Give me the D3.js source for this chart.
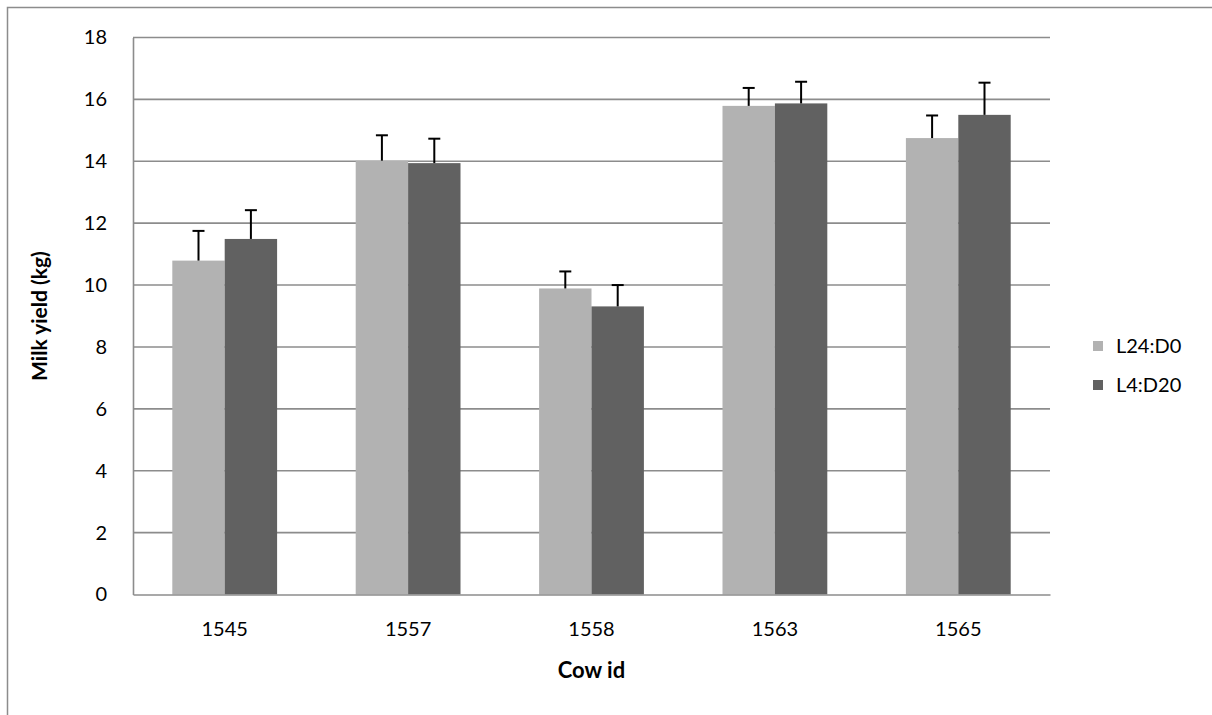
<!DOCTYPE html>
<html><head><meta charset="utf-8">
<script src="https://cdn.jsdelivr.net/npm/d3@7"></script>
<style>body{margin:0;background:#fff}svg{display:block}text{font-family:Lato,"Open Sans",sans-serif;fill:#000}</style>
</head><body>
<svg id="c" width="1212" height="715"></svg>
<script>
const categories = ["1545","1557","1558","1563","1565"];
const seriesNames = ["L24:D0","L4:D20"];
const valuesL24 = [10.79, 14.02, 9.89, 15.79, 14.75];
const errorsL24 = [0.96, 0.82, 0.55, 0.58, 0.73];
const valuesL4 = [11.49, 13.94, 9.31, 15.87, 15.50];
const errorsL4 = [0.93, 0.79, 0.69, 0.70, 1.04];
const yTicks = [0,2,4,6,8,10,12,14,16,18];
const colors = ["#b2b2b2","#616161"];

const svg = d3.select("#c");
const L = 133, R = 1050, T = 37.5, B = 594.5;
const FF = "Lato,'Open Sans',sans-serif";

svg.append("rect").attr("x",7.5).attr("y",7.5).attr("width",1300).attr("height",800)
  .attr("fill","none").attr("stroke","#8c8c8c").attr("stroke-width",1.5);

const x = d3.scaleBand().domain(categories).range([L,R]).paddingInner(0).paddingOuter(0);
const bw = x.bandwidth() / 3.5;
const xs = d3.scaleBand().domain(seriesNames).range([0, 2*bw]);
const y = d3.scaleLinear().domain([0,18]).range([B,T]);

svg.append("g").selectAll("line").data(yTicks.filter(d=>d>0)).join("line")
  .attr("x1",L).attr("x2",R).attr("y1",d=>y(d)).attr("y2",d=>y(d))
  .attr("stroke","#8c8c8c").attr("stroke-width",1.6);

const yAxis = svg.append("g").attr("transform",`translate(${L},0)`)
  .call(d3.axisLeft(y).tickValues(yTicks).tickSize(0).tickPadding(26));
yAxis.select(".domain").attr("stroke","#8c8c8c").attr("stroke-width",1.6);
yAxis.selectAll("text").attr("font-size",20).attr("font-family",FF).attr("fill","#000");

const data = [
  {name:seriesNames[0], vals:valuesL24, errs:errorsL24, color:colors[0]},
  {name:seriesNames[1], vals:valuesL4, errs:errorsL4, color:colors[1]}
];
const off = (x.bandwidth() - 2*bw)/2;
data.forEach(s=>{
  const g = svg.append("g");
  g.selectAll("rect").data(categories).join("rect")
    .attr("x",(c)=>x(c)+off+xs(s.name))
    .attr("y",(c,i)=>y(s.vals[i]))
    .attr("width",bw).attr("height",(c,i)=>B-y(s.vals[i]))
    .attr("fill",s.color);
  const eb = svg.append("g").attr("stroke","#000").attr("stroke-width",2);
  categories.forEach((c,i)=>{
    const cx = x(c)+off+xs(s.name)+bw/2;
    eb.append("line").attr("x1",cx).attr("x2",cx).attr("y1",y(s.vals[i])).attr("y2",y(s.vals[i]+s.errs[i]));
    eb.append("line").attr("x1",cx-6).attr("x2",cx+6).attr("y1",y(s.vals[i]+s.errs[i])).attr("y2",y(s.vals[i]+s.errs[i]));
  });
});

const xAxis = svg.append("g").attr("transform",`translate(0,${B})`)
  .call(d3.axisBottom(x).tickSize(0).tickPadding(27));
xAxis.select(".domain").attr("stroke","#8c8c8c").attr("stroke-width",1.6);
xAxis.selectAll("text").attr("font-size",20).attr("font-family",FF).attr("fill","#000");

svg.append("text").attr("x",(L+R)/2).attr("y",678).attr("text-anchor","middle")
  .attr("font-size",22).attr("font-weight","bold").attr("font-family",FF).text("Cow id");
svg.append("text").attr("transform",`translate(47,${(T+B)/2}) rotate(-90)`).attr("text-anchor","middle")
  .attr("font-size",21).attr("font-weight","bold").attr("font-family",FF).text("Milk yield (kg)");

const lg = svg.append("g");
seriesNames.forEach((n,i)=>{
  const yy = 346 + i*39;
  lg.append("rect").attr("x",1093).attr("y",yy-5).attr("width",10).attr("height",10).attr("fill",colors[i]);
  lg.append("text").attr("x",1116).attr("y",yy+7).attr("font-size",20).attr("font-family",FF).text(n);
});
</script>
</body></html>
